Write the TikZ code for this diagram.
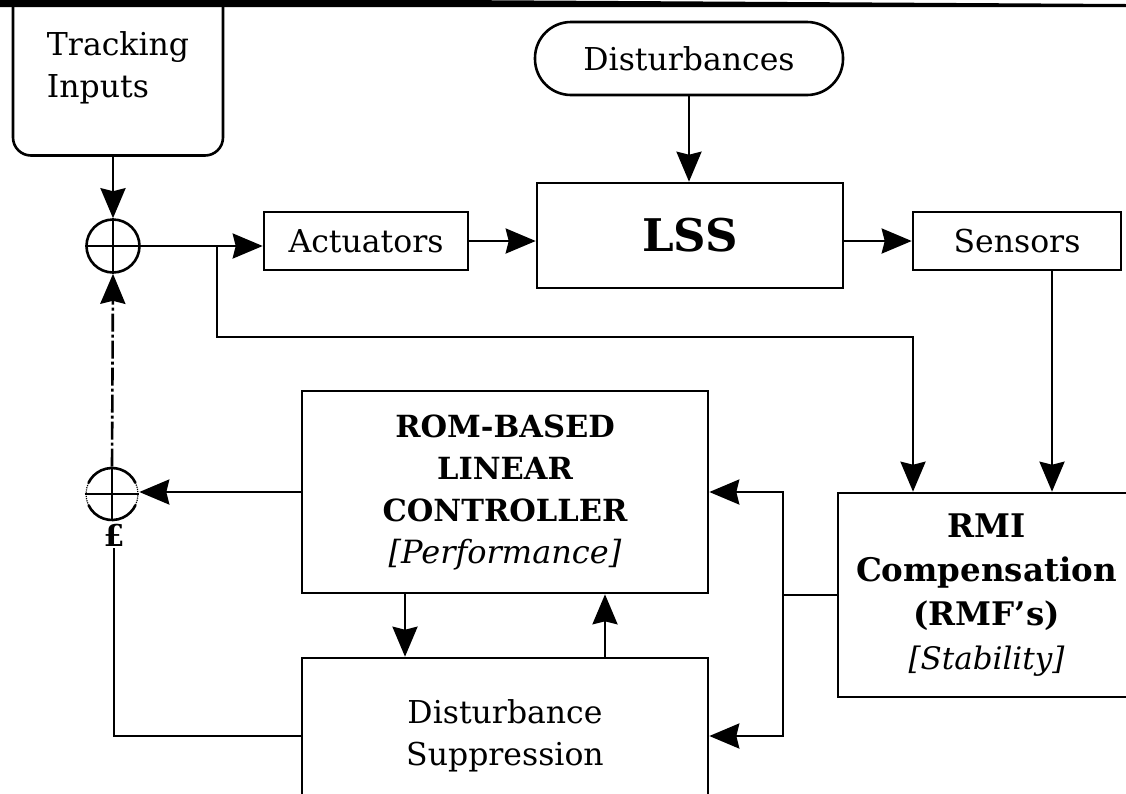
\documentclass[tikz,border=0pt]{standalone}
\usepackage{fontspec}
\setmainfont{DejaVu Serif}
\usetikzlibrary{arrows.meta,calc}
\begin{document}
\begin{tikzpicture}[x=1pt,y=-1pt,
  line width=2.6pt,
  box/.style={draw,line width=2.6pt,rectangle,inner sep=0pt,align=center},
  reg/.style={font=\fontsize{31.5}{42}\selectfont},
  bld/.style={font=\fontsize{30.5}{42}\bfseries\selectfont},
  arr/.style={-{Stealth[length=30pt,width=25pt,inset=3pt]}},
  dashdot/.style={dash pattern=on 18pt off 3pt on 3pt off 3pt}]
\useasboundingbox (0,0) rectangle (1126,793);
\clip (0,0) rectangle (1126,793);
% scan border at top
\fill (0,0) -- (450,0) -- (1126,4) -- (1126,7) -- (0,7) -- cycle;
% nodes
\node[box,rounded corners=18pt,minimum width=210pt,minimum height=175pt,reg,align=left] (ti) at (118,68) {Tracking\\Inputs};
\node[box,rounded corners=36pt,minimum width=308pt,minimum height=73pt,reg] (dist) at (689,58.5) {Disturbances};
\node[box,minimum width=204pt,minimum height=58pt,reg] (act) at (366,241) {Actuators};
\node[box,minimum width=306pt,minimum height=105pt,font=\fontsize{45}{50}\bfseries\selectfont] (lss) at (690,235.5) {LSS};
\node[box,minimum width=208pt,minimum height=58pt,reg] (sens) at (1017,241) {Sensors};
\node[box,minimum width=406pt,minimum height=202pt,bld] (rom) at (505,492) {ROM-BASED\\LINEAR\\CONTROLLER\\{\mdseries\itshape\fontsize{32}{42}\selectfont [Performance]}};
\node[box,minimum width=406pt,minimum height=156pt,reg] (ds) at (505,736) {Disturbance\\Suppression};
\node[box,minimum width=297pt,minimum height=204pt,font=\fontsize{32.5}{44}\bfseries\selectfont] (rmi) at (986.5,595) {RMI\\Compensation\\(RMF's)\\{\mdseries\itshape\fontsize{31}{44}\selectfont [Stability]}};
\node[circle,draw,line width=2.6pt,minimum size=53pt,inner sep=0pt] (sum1) at (113,246) {};
\node[circle,minimum size=52pt,inner sep=0pt] (sum2) at (112,494) {};
\node[inner sep=1pt,font=\fontsize{30}{30}\bfseries\selectfont] (pnd) at (114,535) {£};
% summing junction crosses
\draw (sum1.north) -- (sum1.south);
\draw (sum1.west) -- (sum1.east);
\begin{scope}[shift={(sum2.center)},x=1pt,y=1pt]
  \draw (25:26) arc[start angle=25,end angle=155,radius=26];
  \draw (205:26) arc[start angle=205,end angle=335,radius=26];
  \draw[line width=1.2pt,densely dotted] (155:26) arc[start angle=155,end angle=205,radius=26];
  \draw[line width=1.2pt,densely dotted] (-25:26) arc[start angle=-25,end angle=25,radius=26];
\end{scope}
\draw (sum2.west) -- (sum2.east);
\draw (sum2.north) -- (sum2.south);
% coordinates
\coordinate (br1) at (217,246);
\coordinate (bc) at (913,337);
\coordinate (s1) at ([xshift=35pt]sens.south);
\coordinate (jn) at (783,595);
\coordinate (rd) at ([xshift=-100pt]rom.south);
\coordinate (ru) at ([xshift=100pt]rom.south);
% connectors
\draw[arr] (ti.south -| sum1) -- (sum1.north);
\draw[arr] (sum1.east) -- (sum1.east -| act.west);
\draw[arr] (br1) |- (bc) -- (bc |- rmi.north);
\draw[arr] (act.east) -- (act.east -| lss.west);
\draw[arr] (dist.south) -- (dist.south |- lss.north);
\draw[arr] (lss.east |- sens.west) -- (sens.west);
\draw[arr] (s1) -- (s1 |- rmi.north);
\draw[arr] (rom.west) -- (rom.west -| sum2.east);
\draw[arr,dashdot] (sum2.north) -- (sum1.south);
\draw (ds.west) -| (pnd.south);
\draw (rmi.west) -- (jn);
\draw[arr] (jn) |- (rom.east);
\draw[arr] (jn) |- (ds.east);
\draw[arr] (rd) -- (rd |- ds.north);
\draw[arr] (ru |- ds.north) -- (ru);
\end{tikzpicture}
\end{document}
